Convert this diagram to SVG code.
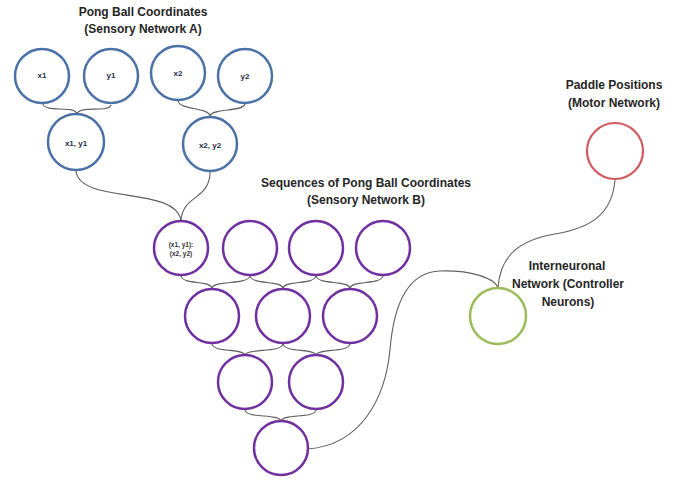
<svg xmlns="http://www.w3.org/2000/svg" width="675" height="481" viewBox="0 0 675 481">
<style>
.title{font-family:"Liberation Sans",Arial,sans-serif;font-weight:bold;font-size:12px;fill:#262626;text-anchor:middle}
.lbl{font-family:"Liberation Sans",Arial,sans-serif;font-weight:bold;font-size:8px;fill:#1f2d4a;text-anchor:middle}
.lbls{font-family:"Liberation Sans",Arial,sans-serif;font-weight:bold;font-size:6.5px;fill:#333;text-anchor:middle}
.blue{fill:#fff;stroke:#4a72a6;stroke-width:2.5}
.purple{fill:#fff;stroke:#7030a0;stroke-width:2.5}
.red{fill:#fff;stroke:#cf5b5e;stroke-width:2.2}
.green{fill:#fff;stroke:#9bbb59;stroke-width:2.5}
.conn path{fill:none;stroke:#606060;stroke-width:1.1}
</style>
<rect width="675" height="481" fill="#fff"/>
<g id="connectors" class="conn">
<path d="M43,104 C45,113 75,105 77,114"/>
<path d="M111,105 C109,113 79,105 77,114"/>
<path d="M178,101 C180,110 208,107 210,116"/>
<path d="M245,104 C243,112 212,108 210,116"/>
<path d="M76,171 C80,205 176,185 181,221"/>
<path d="M210,172 C210,200 182,195 181,221"/>
<path d="M181,276 C183,285 210,280 212,288"/>
<path d="M250,276 C248,285 214,280 212,288"/>
<path d="M250,276 C252,285 281,280 283,288"/>
<path d="M316,276 C314,285 285,280 283,288"/>
<path d="M316,276 C318,285 348,280 350,288"/>
<path d="M383,276 C381,285 352,280 350,288"/>
<path d="M212,344 C214,353 243,348 245,355"/>
<path d="M283,344 C281,353 247,348 245,355"/>
<path d="M283,344 C285,353 314,348 316,355"/>
<path d="M350,344 C348,353 318,348 316,355"/>
<path d="M245,410 C247,419 279,413 281,421"/>
<path d="M316,410 C314,419 283,413 281,421"/>
<path d="M308,449 C360,445 385,400 390,350 C394,300 410,272 440,271 C470,270 495,278 498,288"/>
<path d="M615,180 C612,215 590,228 555,234 C520,240 500,255 498,288"/>
</g>
<g id="label-a">
<text class="title" x="143" y="16">Pong Ball Coordinates</text>
<text class="title" x="143" y="33">(Sensory Network A)</text>
</g>
<g id="label-b">
<text class="title" x="366" y="187">Sequences of Pong Ball Coordinates</text>
<text class="title" x="366" y="204">(Sensory Network B)</text>
</g>
<g id="label-motor">
<text class="title" x="614" y="89">Paddle Positions</text>
<text class="title" x="614" y="107">(Motor Network)</text>
</g>
<g id="label-inter">
<text class="title" x="567" y="270">Interneuronal</text>
<text class="title" x="568" y="288">Network (Controller</text>
<text class="title" x="568" y="306">Neurons)</text>
</g>
<g id="node-x1"><circle class="blue" cx="42" cy="76" r="27"/><text class="lbl" x="42" y="78">x1</text></g>
<g id="node-y1"><circle class="blue" cx="111" cy="76" r="27"/><text class="lbl" x="111" y="78">y1</text></g>
<g id="node-x2"><circle class="blue" cx="178" cy="73" r="27"/><text class="lbl" x="178" y="76">x2</text></g>
<g id="node-y2"><circle class="blue" cx="245" cy="76" r="27"/><text class="lbl" x="245" y="79">y2</text></g>
<g id="node-x1y1"><circle class="blue" cx="76" cy="142" r="28"/><text class="lbl" x="76" y="146">x1, y1</text></g>
<g id="node-x2y2"><circle class="blue" cx="210" cy="144" r="27"/><text class="lbl" x="210" y="148">x2, y2</text></g>
<g id="node-s1"><circle class="purple" cx="181" cy="248" r="27"/><text class="lbls" x="181" y="247">(x1, y1):</text><text class="lbls" x="181" y="256">(x2, y2)</text></g>
<g id="node-s2"><circle class="purple" cx="250" cy="248" r="27"/></g>
<g id="node-s3"><circle class="purple" cx="316" cy="248" r="27"/></g>
<g id="node-s4"><circle class="purple" cx="383" cy="248" r="27"/></g>
<g id="node-s5"><circle class="purple" cx="212" cy="316" r="27"/></g>
<g id="node-s6"><circle class="purple" cx="283" cy="316" r="27"/></g>
<g id="node-s7"><circle class="purple" cx="350" cy="316" r="27"/></g>
<g id="node-s8"><circle class="purple" cx="245" cy="382" r="27"/></g>
<g id="node-s9"><circle class="purple" cx="316" cy="382" r="27"/></g>
<g id="node-s10"><circle class="purple" cx="281" cy="448" r="27"/></g>
<g id="node-motor"><circle class="red" cx="615" cy="151" r="28"/></g>
<g id="node-inter"><circle class="green" cx="498" cy="316" r="28"/></g>
</svg>
